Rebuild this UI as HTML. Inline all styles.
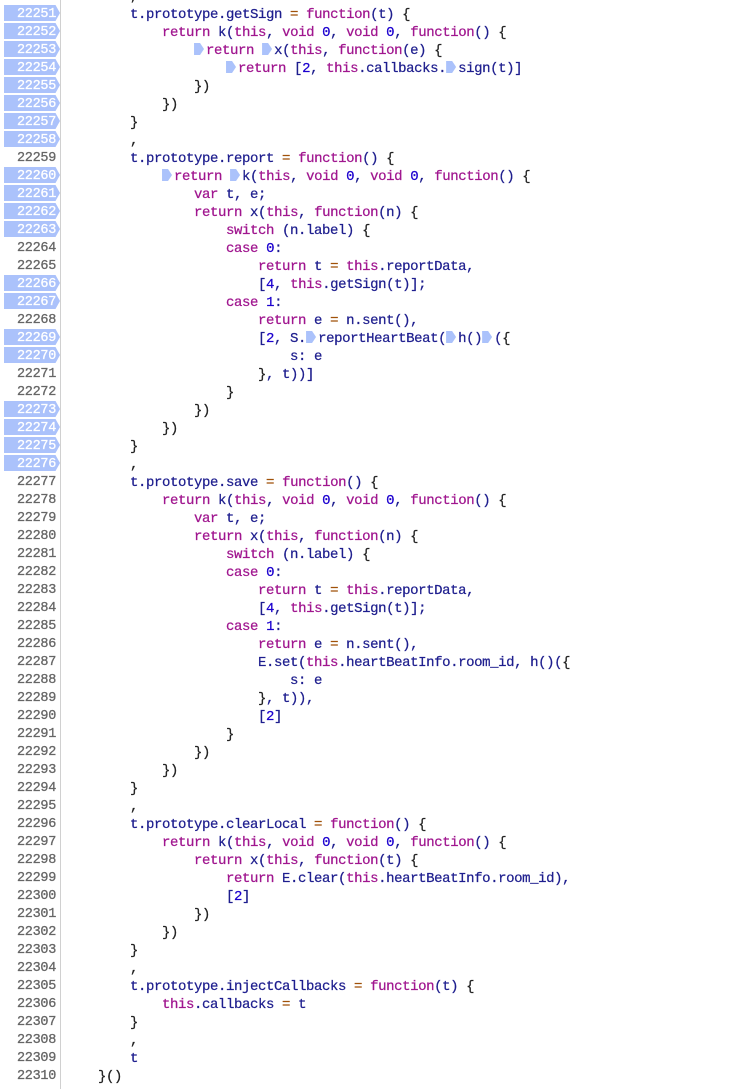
<!DOCTYPE html>
<html><head><meta charset="utf-8">
<style>
html,body{margin:0;padding:0;background:#fff;width:738px;height:1089px;overflow:hidden;position:relative}
#w{position:absolute;left:0;top:3px;width:738px;height:1089px}
.g{position:absolute;left:60px;top:0;width:1px;height:1089px;background:#d0d0d0}
.n{position:absolute;left:0;width:56px;height:18px;line-height:18px;text-align:right;font:13.5px "Liberation Mono",monospace;letter-spacing:-0.3px;color:#666;-webkit-text-stroke:0.3px}
.bp{position:absolute;left:4px;width:56px;height:16px;background:#abc2fb;clip-path:polygon(0 0,92% 0,100% 50%,92% 100%,0 100%)}
.bpn{color:#fff}
.c{position:absolute;left:98px;height:18px;line-height:18px;font:14px "Liberation Mono",monospace;letter-spacing:-0.4px;color:#1e1e8e;white-space:pre;-webkit-text-stroke:0.25px}
b{font-weight:normal;color:#a0168f}
i{font-style:normal;color:#1c00cf}
u{text-decoration:none;color:#222}
s{text-decoration:none;color:#a0520a}
.m{display:inline-block;width:10px;height:12px;background:#abc2fb;vertical-align:-1px;margin-right:2px;clip-path:polygon(0 0,60% 0,100% 50%,60% 100%,0 100%)}
</style></head><body>
<div class="g"></div>
<div class="bp" style="top:5px"></div><div class="bp" style="top:23px"></div><div class="bp" style="top:41px"></div><div class="bp" style="top:59px"></div><div class="bp" style="top:77px"></div><div class="bp" style="top:95px"></div><div class="bp" style="top:113px"></div><div class="bp" style="top:131px"></div>
<div class="bp" style="top:167px"></div><div class="bp" style="top:185px"></div><div class="bp" style="top:203px"></div><div class="bp" style="top:221px"></div>
<div class="bp" style="top:275px"></div><div class="bp" style="top:293px"></div>
<div class="bp" style="top:329px"></div><div class="bp" style="top:347px"></div>
<div class="bp" style="top:401px"></div><div class="bp" style="top:419px"></div><div class="bp" style="top:437px"></div><div class="bp" style="top:455px"></div>
<div id="w">

<div class="n" style="top:-14px">22250</div>
<div class="n bpn" style="top:4px">22251</div>
<div class="n bpn" style="top:22px">22252</div>
<div class="n bpn" style="top:40px">22253</div>
<div class="n bpn" style="top:58px">22254</div>
<div class="n bpn" style="top:76px">22255</div>
<div class="n bpn" style="top:94px">22256</div>
<div class="n bpn" style="top:112px">22257</div>
<div class="n bpn" style="top:130px">22258</div>
<div class="n" style="top:148px">22259</div>
<div class="n bpn" style="top:166px">22260</div>
<div class="n bpn" style="top:184px">22261</div>
<div class="n bpn" style="top:202px">22262</div>
<div class="n bpn" style="top:220px">22263</div>
<div class="n" style="top:238px">22264</div>
<div class="n" style="top:256px">22265</div>
<div class="n bpn" style="top:274px">22266</div>
<div class="n bpn" style="top:292px">22267</div>
<div class="n" style="top:310px">22268</div>
<div class="n bpn" style="top:328px">22269</div>
<div class="n bpn" style="top:346px">22270</div>
<div class="n" style="top:364px">22271</div>
<div class="n" style="top:382px">22272</div>
<div class="n bpn" style="top:400px">22273</div>
<div class="n bpn" style="top:418px">22274</div>
<div class="n bpn" style="top:436px">22275</div>
<div class="n bpn" style="top:454px">22276</div>
<div class="n" style="top:472px">22277</div>
<div class="n" style="top:490px">22278</div>
<div class="n" style="top:508px">22279</div>
<div class="n" style="top:526px">22280</div>
<div class="n" style="top:544px">22281</div>
<div class="n" style="top:562px">22282</div>
<div class="n" style="top:580px">22283</div>
<div class="n" style="top:598px">22284</div>
<div class="n" style="top:616px">22285</div>
<div class="n" style="top:634px">22286</div>
<div class="n" style="top:652px">22287</div>
<div class="n" style="top:670px">22288</div>
<div class="n" style="top:688px">22289</div>
<div class="n" style="top:706px">22290</div>
<div class="n" style="top:724px">22291</div>
<div class="n" style="top:742px">22292</div>
<div class="n" style="top:760px">22293</div>
<div class="n" style="top:778px">22294</div>
<div class="n" style="top:796px">22295</div>
<div class="n" style="top:814px">22296</div>
<div class="n" style="top:832px">22297</div>
<div class="n" style="top:850px">22298</div>
<div class="n" style="top:868px">22299</div>
<div class="n" style="top:886px">22300</div>
<div class="n" style="top:904px">22301</div>
<div class="n" style="top:922px">22302</div>
<div class="n" style="top:940px">22303</div>
<div class="n" style="top:958px">22304</div>
<div class="n" style="top:976px">22305</div>
<div class="n" style="top:994px">22306</div>
<div class="n" style="top:1012px">22307</div>
<div class="n" style="top:1030px">22308</div>
<div class="n" style="top:1048px">22309</div>
<div class="n" style="top:1066px">22310</div>

<div class="c" style="top:-14px">    <u>,</u></div>
<div class="c" style="top:4px">    t.prototype.getSign <s>=</s> <b>function</b>(t) <u>{</u></div>
<div class="c" style="top:22px">        <b>return</b> k(<b>this</b>, <b>void</b> <i>0</i>, <b>void</b> <i>0</i>, <b>function</b>() <u>{</u></div>
<div class="c" style="top:40px">            <span class="m"></span><b>return</b> <span class="m"></span>x(<b>this</b>, <b>function</b>(e) <u>{</u></div>
<div class="c" style="top:58px">                <span class="m"></span><b>return</b> [<i>2</i>, <b>this</b>.callbacks.<span class="m"></span>sign(t)]</div>
<div class="c" style="top:76px">            <u>})</u></div>
<div class="c" style="top:94px">        <u>})</u></div>
<div class="c" style="top:112px">    <u>}</u></div>
<div class="c" style="top:130px">    <u>,</u></div>
<div class="c" style="top:148px">    t.prototype.report <s>=</s> <b>function</b>() <u>{</u></div>
<div class="c" style="top:166px">        <span class="m"></span><b>return</b> <span class="m"></span>k(<b>this</b>, <b>void</b> <i>0</i>, <b>void</b> <i>0</i>, <b>function</b>() <u>{</u></div>
<div class="c" style="top:184px">            <b>var</b> t, e;</div>
<div class="c" style="top:202px">            <b>return</b> x(<b>this</b>, <b>function</b>(n) <u>{</u></div>
<div class="c" style="top:220px">                <b>switch</b> (n.label) <u>{</u></div>
<div class="c" style="top:238px">                <b>case</b> <i>0</i>:</div>
<div class="c" style="top:256px">                    <b>return</b> t <s>=</s> <b>this</b>.reportData,</div>
<div class="c" style="top:274px">                    [<i>4</i>, <b>this</b>.getSign(t)];</div>
<div class="c" style="top:292px">                <b>case</b> <i>1</i>:</div>
<div class="c" style="top:310px">                    <b>return</b> e <s>=</s> n.sent(),</div>
<div class="c" style="top:328px">                    [<i>2</i>, S.<span class="m"></span>reportHeartBeat(<span class="m"></span>h()<span class="m"></span>(<u>{</u></div>
<div class="c" style="top:346px">                        s: e</div>
<div class="c" style="top:364px">                    <u>}</u>, t))]</div>
<div class="c" style="top:382px">                <u>}</u></div>
<div class="c" style="top:400px">            <u>})</u></div>
<div class="c" style="top:418px">        <u>})</u></div>
<div class="c" style="top:436px">    <u>}</u></div>
<div class="c" style="top:454px">    <u>,</u></div>
<div class="c" style="top:472px">    t.prototype.save <s>=</s> <b>function</b>() <u>{</u></div>
<div class="c" style="top:490px">        <b>return</b> k(<b>this</b>, <b>void</b> <i>0</i>, <b>void</b> <i>0</i>, <b>function</b>() <u>{</u></div>
<div class="c" style="top:508px">            <b>var</b> t, e;</div>
<div class="c" style="top:526px">            <b>return</b> x(<b>this</b>, <b>function</b>(n) <u>{</u></div>
<div class="c" style="top:544px">                <b>switch</b> (n.label) <u>{</u></div>
<div class="c" style="top:562px">                <b>case</b> <i>0</i>:</div>
<div class="c" style="top:580px">                    <b>return</b> t <s>=</s> <b>this</b>.reportData,</div>
<div class="c" style="top:598px">                    [<i>4</i>, <b>this</b>.getSign(t)];</div>
<div class="c" style="top:616px">                <b>case</b> <i>1</i>:</div>
<div class="c" style="top:634px">                    <b>return</b> e <s>=</s> n.sent(),</div>
<div class="c" style="top:652px">                    E.set(<b>this</b>.heartBeatInfo.room_id, h()(<u>{</u></div>
<div class="c" style="top:670px">                        s: e</div>
<div class="c" style="top:688px">                    <u>}</u>, t)),</div>
<div class="c" style="top:706px">                    [<i>2</i>]</div>
<div class="c" style="top:724px">                <u>}</u></div>
<div class="c" style="top:742px">            <u>})</u></div>
<div class="c" style="top:760px">        <u>})</u></div>
<div class="c" style="top:778px">    <u>}</u></div>
<div class="c" style="top:796px">    <u>,</u></div>
<div class="c" style="top:814px">    t.prototype.clearLocal <s>=</s> <b>function</b>() <u>{</u></div>
<div class="c" style="top:832px">        <b>return</b> k(<b>this</b>, <b>void</b> <i>0</i>, <b>void</b> <i>0</i>, <b>function</b>() <u>{</u></div>
<div class="c" style="top:850px">            <b>return</b> x(<b>this</b>, <b>function</b>(t) <u>{</u></div>
<div class="c" style="top:868px">                <b>return</b> E.clear(<b>this</b>.heartBeatInfo.room_id),</div>
<div class="c" style="top:886px">                [<i>2</i>]</div>
<div class="c" style="top:904px">            <u>})</u></div>
<div class="c" style="top:922px">        <u>})</u></div>
<div class="c" style="top:940px">    <u>}</u></div>
<div class="c" style="top:958px">    <u>,</u></div>
<div class="c" style="top:976px">    t.prototype.injectCallbacks <s>=</s> <b>function</b>(t) <u>{</u></div>
<div class="c" style="top:994px">        <b>this</b>.callbacks <s>=</s> t</div>
<div class="c" style="top:1012px">    <u>}</u></div>
<div class="c" style="top:1030px">    <u>,</u></div>
<div class="c" style="top:1048px">    t</div>
<div class="c" style="top:1066px"><u>}()</u></div>
</div></body></html>
